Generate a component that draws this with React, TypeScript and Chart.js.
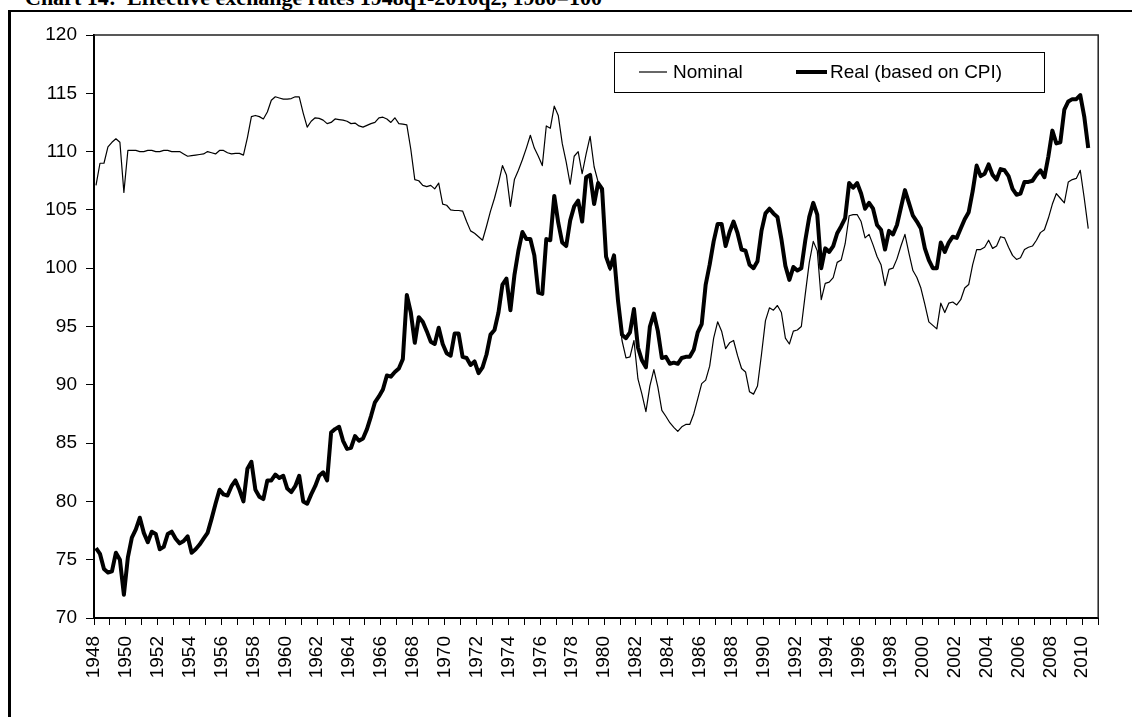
import React, { useEffect, useRef } from 'react';
import { Chart, registerables } from 'chart.js';

Chart.register(...registerables);

// ---- Data (quarterly, 1948q1 .. 2010q2) ----
const START_YEAR = 1948;
const AXIS_END_YEAR = 2011;
const seriesNames = ['Nominal', 'Real (based on CPI)'];
const titleText = 'Chart 14:  Effective exchange rates 1948q1-2010q2, 1980=100';
const yMin = 70;
const yMax = 120;
const yStep = 5;

const nominal: number[] = [
  107.1, 109.0, 109.0, 110.4, // 1948
  110.8, 111.1, 110.8, 106.5, // 1949
  110.1, 110.1, 110.1, 110.0, // 1950
  110.0, 110.1, 110.1, 110.0, // 1951
  110.0, 110.1, 110.1, 110.0, // 1952
  110.0, 110.0, 109.8, 109.6, // 1953
  109.65, 109.7, 109.75, 109.8, // 1954
  110.0, 109.9, 109.8, 110.1, // 1955
  110.1, 109.9, 109.8, 109.85, // 1956
  109.85, 109.7, 111.2, 113.0, // 1957
  113.1, 113.0, 112.8, 113.4, // 1958
  114.4, 114.7, 114.6, 114.5, // 1959
  114.5, 114.55, 114.7, 114.7, // 1960
  113.3, 112.1, 112.6, 112.9, // 1961
  112.85, 112.7, 112.4, 112.5, // 1962
  112.8, 112.75, 112.7, 112.6, // 1963
  112.4, 112.45, 112.2, 112.1, // 1964
  112.25, 112.4, 112.5, 112.9, // 1965
  112.95, 112.8, 112.5, 112.9, // 1966
  112.4, 112.35, 112.3, 110.2, // 1967
  107.6, 107.5, 107.1, 107.0, // 1968
  107.1, 106.8, 107.3, 105.5, // 1969
  105.4, 105.0, 104.95, 104.95, // 1970
  104.9, 104.0, 103.2, 103.0, // 1971
  102.7, 102.4, 103.6, 104.9, // 1972
  106.0, 107.3, 108.8, 108.0, // 1973
  105.3, 107.6, 108.4, 109.3, // 1974
  110.3, 111.4, 110.3, 109.6, // 1975
  108.8, 112.2, 112.0, 113.9, // 1976
  113.1, 110.7, 109.1, 107.2, // 1977
  109.6, 110.0, 108.1, 109.8, // 1978
  111.3, 108.7, 107.4, 106.3, // 1979
  100.8, 99.8, 100.6, 97.0, // 1980
  93.8, 92.3, 92.4, 93.8, // 1981
  90.5, 89.2, 87.7, 89.9, // 1982
  91.3, 89.8, 87.8, 87.3, // 1983
  86.75, 86.35, 86.0, 86.4, // 1984
  86.6, 86.6, 87.5, 88.8, // 1985
  90.1, 90.4, 91.6, 94.0, // 1986
  95.4, 94.6, 93.1, 93.6, // 1987
  93.8, 92.5, 91.4, 91.1, // 1988
  89.4, 89.2, 89.9, 92.6, // 1989
  95.5, 96.6, 96.4, 96.8, // 1990
  96.2, 94.0, 93.5, 94.6, // 1991
  94.7, 95.0, 97.8, 100.5, // 1992
  102.3, 101.5, 97.3, 98.7, // 1993
  98.8, 99.2, 100.5, 100.7, // 1994
  102.1, 104.5, 104.6, 104.6, // 1995
  104.0, 102.6, 102.9, 102.0, // 1996
  101.0, 100.3, 98.5, 99.9, // 1997
  100.0, 100.8, 101.9, 102.9, // 1998
  101.3, 99.8, 99.2, 98.3, // 1999
  96.9, 95.4, 95.1, 94.8, // 2000
  97.0, 96.2, 97.0, 97.1, // 2001
  96.85, 97.3, 98.3, 98.6, // 2002
  100.3, 101.6, 101.6, 101.8, // 2003
  102.4, 101.7, 101.9, 102.7, // 2004
  102.6, 101.8, 101.1, 100.75, // 2005
  100.9, 101.6, 101.8, 101.9, // 2006
  102.4, 103.05, 103.3, 104.3, // 2007
  105.5, 106.4, 106.0, 105.6, // 2008
  107.4, 107.6, 107.7, 108.4, // 2009
  106.0, 103.4, // 2010
];

const real: number[] = [
  76.0, 75.5, 74.2, 73.9, // 1948
  74.0, 75.6, 75.0, 72.0, // 1949
  75.2, 76.9, 77.6, 78.6, // 1950
  77.3, 76.5, 77.4, 77.2, // 1951
  75.9, 76.1, 77.2, 77.4, // 1952
  76.8, 76.4, 76.6, 77.0, // 1953
  75.6, 75.9, 76.3, 76.8, // 1954
  77.3, 78.5, 79.8, 81.0, // 1955
  80.6, 80.5, 81.3, 81.8, // 1956
  81.0, 80.0, 82.8, 83.4, // 1957
  81.0, 80.4, 80.2, 81.8, // 1958
  81.8, 82.3, 82.0, 82.2, // 1959
  81.1, 80.8, 81.3, 82.2, // 1960
  80.0, 79.8, 80.6, 81.3, // 1961
  82.2, 82.5, 81.8, 85.9, // 1962
  86.2, 86.4, 85.2, 84.5, // 1963
  84.6, 85.6, 85.2, 85.4, // 1964
  86.2, 87.3, 88.5, 89.0, // 1965
  89.6, 90.8, 90.7, 91.1, // 1966
  91.4, 92.2, 97.7, 96.2, // 1967
  93.6, 95.8, 95.4, 94.6, // 1968
  93.7, 93.5, 94.9, 93.5, // 1969
  92.7, 92.5, 94.4, 94.4, // 1970
  92.4, 92.3, 91.7, 92.0, // 1971
  91.0, 91.5, 92.6, 94.3, // 1972
  94.7, 96.2, 98.6, 99.1, // 1973
  96.4, 99.4, 101.5, 103.1, // 1974
  102.5, 102.5, 101.1, 97.9, // 1975
  97.8, 102.5, 102.4, 106.2, // 1976
  103.9, 102.2, 101.9, 104.1, // 1977
  105.3, 105.8, 104.0, 107.8, // 1978
  108.0, 105.5, 107.3, 106.8, // 1979
  101.0, 100.0, 101.1, 97.2, // 1980
  94.3, 94.0, 94.5, 96.5, // 1981
  93.2, 92.1, 91.5, 95.0, // 1982
  96.1, 94.6, 92.3, 92.4, // 1983
  91.8, 91.9, 91.8, 92.3, // 1984
  92.4, 92.4, 93.0, 94.5, // 1985
  95.2, 98.6, 100.3, 102.3, // 1986
  103.8, 103.8, 101.9, 103.1, // 1987
  104.0, 103.0, 101.6, 101.5, // 1988
  100.3, 100.0, 100.6, 103.2, // 1989
  104.7, 105.1, 104.7, 104.4, // 1990
  102.5, 100.2, 99.0, 100.1, // 1991
  99.8, 100.0, 102.4, 104.4, // 1992
  105.6, 104.6, 100.0, 101.7, // 1993
  101.4, 101.9, 103.0, 103.6, // 1994
  104.3, 107.3, 106.9, 107.3, // 1995
  106.4, 105.1, 105.6, 105.1, // 1996
  103.7, 103.3, 101.6, 103.2, // 1997
  102.9, 103.7, 105.2, 106.7, // 1998
  105.6, 104.5, 104.0, 103.4, // 1999
  101.7, 100.7, 100.0, 100.0, // 2000
  102.2, 101.4, 102.2, 102.7, // 2001
  102.6, 103.4, 104.2, 104.8, // 2002
  106.6, 108.8, 107.9, 108.1, // 2003
  108.9, 108.0, 107.6, 108.5, // 2004
  108.4, 107.9, 106.8, 106.3, // 2005
  106.4, 107.4, 107.4, 107.5, // 2006
  108.0, 108.4, 107.8, 109.6, // 2007
  111.8, 110.7, 110.8, 113.6, // 2008
  114.3, 114.5, 114.5, 114.85, // 2009
  113.0, 110.3, // 2010
];

// quarter labels derived from the start year
const quarterLabels: string[] = nominal.map(
  (_, i) => `${START_YEAR + Math.floor(i / 4)}q${(i % 4) + 1}`
);

// place each quarter at the middle of its slot on a year axis
const toPoints = (vals: number[]) =>
  vals.map((v, i) => {
    const year = Number(quarterLabels[i].slice(0, 4));
    const q = Number(quarterLabels[i].slice(5));
    return { x: year + (q - 0.5) / 4, y: v };
  });

const FONT_FAMILY = '"Liberation Sans", Arial, sans-serif';

const legendPlugin = {
  id: 'boxLegend',
  afterDraw(chart: any) {
    const { ctx, chartArea } = chart;
    const x0 = chartArea.left + 520;
    const y0 = chartArea.top + 17;
    const w = 430;
    const h = 40;
    ctx.save();
    ctx.fillStyle = '#ffffff';
    ctx.fillRect(x0, y0, w, h);
    ctx.strokeStyle = '#000000';
    ctx.lineWidth = 1;
    ctx.strokeRect(x0 + 0.5, y0 + 0.5, w, h);
    const cy = y0 + h / 2;
    const layout = [
      { lx: 25, lw: 28, tx: 59 },
      { lx: 182, lw: 31, tx: 216 },
    ];
    chart.data.datasets.forEach((ds: any, i: number) => {
      const L = layout[i];
      ctx.beginPath();
      ctx.strokeStyle = ds.borderColor;
      ctx.lineWidth = ds.borderWidth;
      ctx.lineCap = 'butt';
      ctx.moveTo(x0 + L.lx, cy);
      ctx.lineTo(x0 + L.lx + L.lw, cy);
      ctx.stroke();
      ctx.fillStyle = '#000000';
      ctx.font = `19px ${FONT_FAMILY}`;
      ctx.textBaseline = 'middle';
      ctx.textAlign = 'left';
      ctx.fillText(ds.label, x0 + L.tx, cy + 1);
    });
    ctx.restore();
  },
};

const plotBorderPlugin = {
  id: 'plotBorder',
  afterDatasetsDraw(chart: any) {
    const { ctx, chartArea } = chart;
    ctx.save();
    ctx.strokeStyle = '#222222';
    ctx.lineWidth = 1.5;
    ctx.beginPath();
    ctx.moveTo(chartArea.left, chartArea.top);
    ctx.lineTo(chartArea.right, chartArea.top);
    ctx.lineTo(chartArea.right, chartArea.bottom);
    ctx.stroke();
    ctx.restore();
  },
};

export default function App() {
  const canvasRef = useRef<HTMLCanvasElement | null>(null);

  useEffect(() => {
    const canvas = canvasRef.current;
    if (!canvas) return;
    const chart = new Chart(canvas, {
      type: 'line',
      data: {
        datasets: [
          {
            label: seriesNames[0],
            data: toPoints(nominal),
            borderColor: '#000000',
            borderWidth: 1.2,
            pointRadius: 0,
            tension: 0,
            order: 1,
            borderJoinStyle: 'round',
          },
          {
            label: seriesNames[1],
            data: toPoints(real),
            borderColor: '#000000',
            borderWidth: 4,
            pointRadius: 0,
            tension: 0,
            order: 0,
            borderJoinStyle: 'round',
          },
        ],
      },
      options: {
        animation: false,
        responsive: false,
        maintainAspectRatio: false,
        events: [],
        layout: { padding: { left: 0, top: 35, right: 27, bottom: 0 } },
        plugins: {
          legend: { display: false },
          tooltip: { enabled: false },
          title: { display: false },
        },
        scales: {
          x: {
            type: 'linear',
            min: START_YEAR,
            max: AXIS_END_YEAR,
            afterFit: (scale: any) => {
              scale.height = 99;
            },
            ticks: {
              stepSize: 1,
              autoSkip: false,
              maxRotation: 90,
              minRotation: 90,
              padding: 11,
              color: '#000000',
              font: { family: FONT_FAMILY, size: 19 },
              callback: (v: any) => (Number(v) % 2 === 0 ? String(v) : ''),
            },
            grid: {
              drawOnChartArea: false,
              drawTicks: true,
              tickLength: 7,
              tickColor: '#000000',
              tickWidth: 1,
            },
            border: { display: true, color: '#000000', width: 2 },
          },
          y: {
            type: 'linear',
            min: yMin,
            max: yMax,
            afterFit: (scale: any) => {
              scale.width = 94;
            },
            ticks: {
              stepSize: yStep,
              padding: 9,
              color: '#000000',
              font: { family: FONT_FAMILY, size: 19 },
            },
            grid: {
              drawOnChartArea: false,
              drawTicks: true,
              tickLength: 8,
              tickColor: '#000000',
              tickWidth: 1,
            },
            border: { display: true, color: '#000000', width: 2 },
          },
        },
      },
      plugins: [plotBorderPlugin, legendPlugin],
    } as any);
    return () => chart.destroy();
  }, []);

  return (
    <div
      style={{
        position: 'absolute',
        left: 0,
        top: 0,
        width: 1132,
        height: 717,
        overflow: 'hidden',
        background: '#ffffff',
      }}
    >
      <div
        style={{
          position: 'absolute',
          left: 25,
          top: -13,
          font: 'bold 22px "Liberation Serif", "Times New Roman", serif',
          lineHeight: '22px',
          whiteSpace: 'pre',
          color: '#000',
        }}
      >
        {titleText}
      </div>
      <div
        style={{
          position: 'absolute',
          left: 8,
          top: 10,
          width: 1300,
          height: 900,
          borderLeft: '3px solid #000',
          borderTop: '2px solid #000',
          boxSizing: 'border-box',
        }}
      />
      <canvas
        ref={canvasRef}
        width={1132}
        height={717}
        style={{ position: 'absolute', left: 0, top: 0, width: 1132, height: 717 }}
      />
    </div>
  );
}
